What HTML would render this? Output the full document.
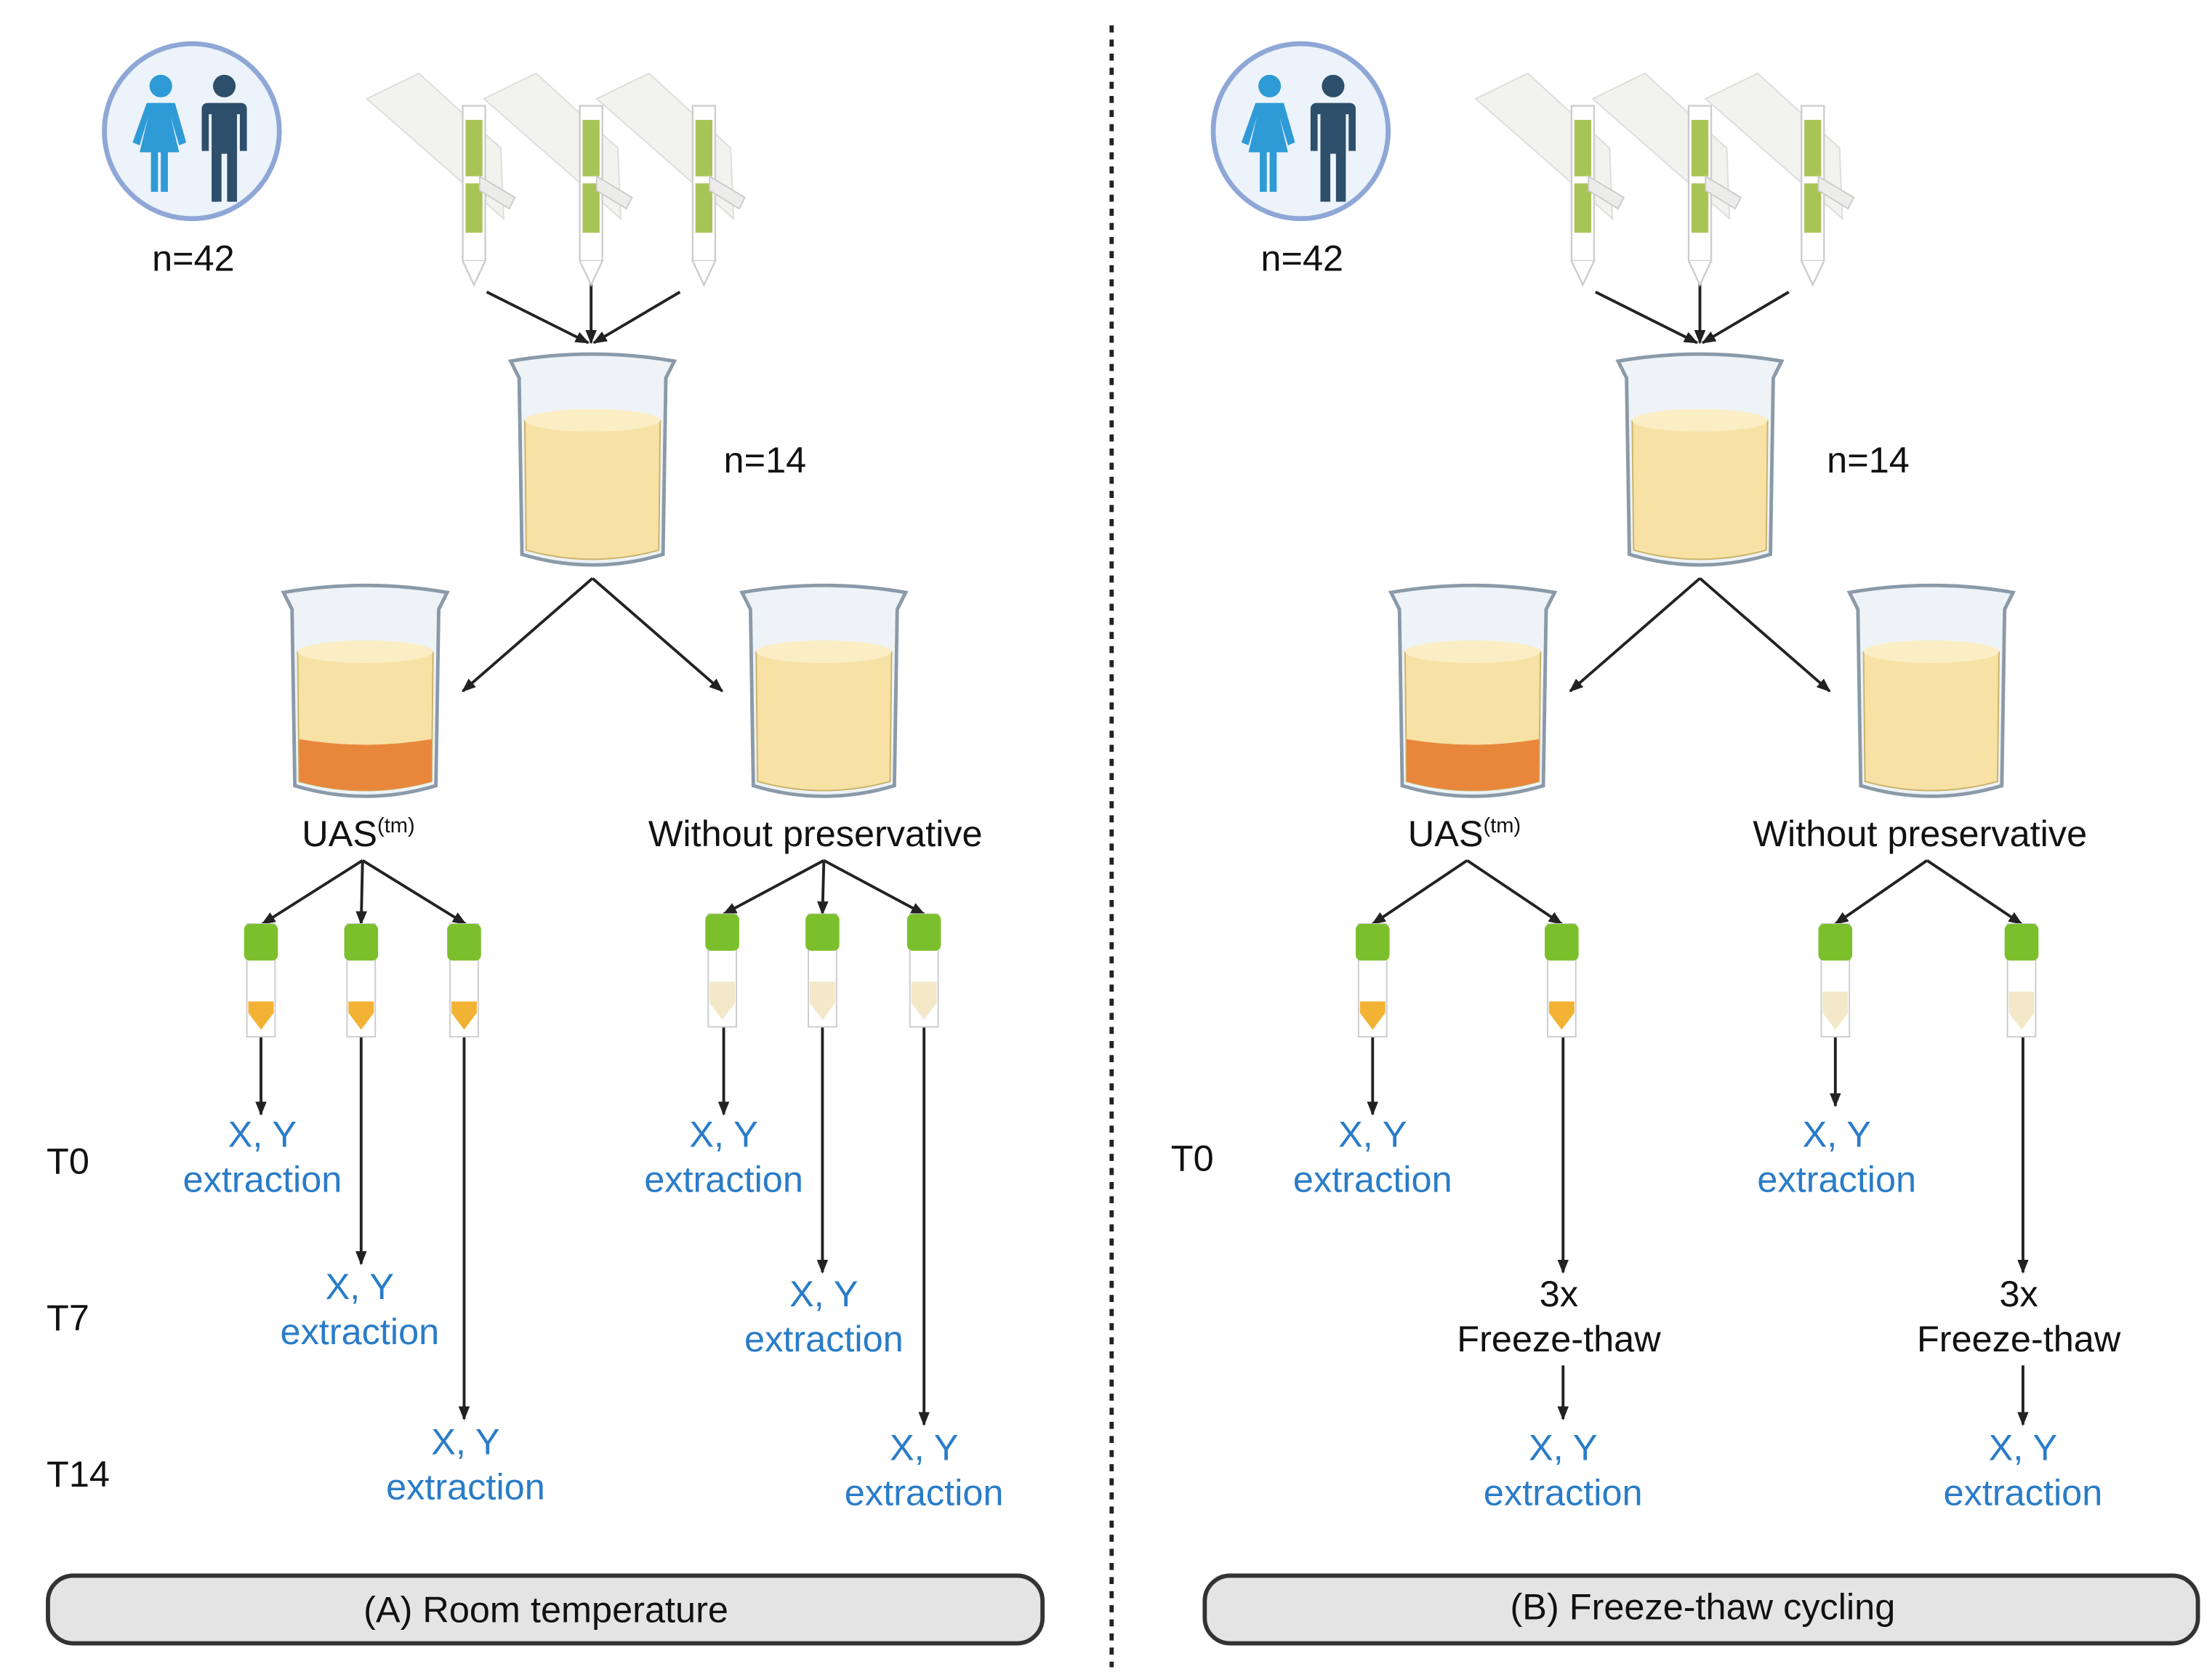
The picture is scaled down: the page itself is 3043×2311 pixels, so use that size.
<!DOCTYPE html>
<html><head><meta charset="utf-8"><style>html,body{margin:0;padding:0;background:#fff}svg{display:block}text{font-family:"Liberation Sans",sans-serif}</style></head><body>
<svg width="3043" height="2311" viewBox="0 0 1568 1191" preserveAspectRatio="none" xmlns="http://www.w3.org/2000/svg">
<defs>
<marker id="ah" markerWidth="10" markerHeight="10" refX="9" refY="5" orient="auto" markerUnits="userSpaceOnUse"><path d="M0,1 L10,5 L0,9 Z" fill="#222"/></marker>
<g id="people">
<circle cx="0" cy="0" r="62" fill="#edf3fb" stroke="#8ea7d6" stroke-width="3.5"/>
<circle cx="-22" cy="-32" r="8" fill="#2e9bd6"/>
<path d="M-32,-20 h20 l8,28 l-5,2 l-6,-20 l6,25 h-8 v28 h-5 v-28 h-2 v28 h-5 v-28 h-8 l6,-25 l-6,20 l-5,-2 Z" fill="#2e9bd6"/>
<circle cx="23" cy="-32" r="8" fill="#2d4f6b"/>
<path d="M11,-20 h24 a4,4 0 0 1 4,4 v30 h-5 v-26 h-2 v62 h-7 v-34 h-4 v34 h-7 v-62 h-2 v26 h-5 v-30 a4,4 0 0 1 4,-4 Z" fill="#2d4f6b"/>
</g>
<g id="swab">
<path d="M-75,-60 L-38,-78 L20,-25 L22,25 Z" fill="#f2f2ef" stroke="#ddd" stroke-width="1"/>
<rect x="-7" y="-55" width="16" height="110" fill="#fff" stroke="#ccc" stroke-width="1.2"/>
<path d="M-7,55 L1,72 L9,55" fill="#fff" stroke="#ccc" stroke-width="1.2"/>
<rect x="-5" y="-45" width="12" height="40" fill="#a9c456"/>
<rect x="-5" y="0" width="12" height="35" fill="#a9c456"/>
<path d="M5,-5 L30,10 L26,18 L5,5 Z" fill="#ececea" stroke="#ccc" stroke-width="1"/>
</g>
<g id="beakerY">
<path d="M-58,-72 Q0,-82 58,-72 L52,-60 L50,65 Q0,80 -50,65 L-52,-60 Z" fill="#eef3f7" stroke="#8a9aa8" stroke-width="2.5"/>
<path d="M-48,-30 Q0,-40 48,-30 L47,62 Q0,75 -47,62 Z" fill="#f7e1a4" stroke="#c9b36a" stroke-width="1"/>
<ellipse cx="0" cy="-30" rx="48" ry="8" fill="#fbeec5"/>
</g>
<g id="beakerO">
<use href="#beakerY"/>
<path d="M-47,32 Q0,40 47,32 L47,62 Q0,75 -47,62 Z" fill="#e8873c"/>
</g>
<g id="st">
<rect x="-10" y="0" width="20" height="80" fill="#fff" stroke="#ccc" stroke-width="1"/>
<rect x="-12" y="0" width="24" height="26" rx="4" fill="#7cbf2c"/>
</g>
<g id="stO"><use href="#st"/><path d="M-9,55 h18 v8 l-9,12 l-9,-12 Z" fill="#f2b233"/></g>
<g id="stY"><use href="#st"/><path d="M-9,48 h18 v15 l-9,12 l-9,-12 Z" fill="#f3e8c8"/></g>
</defs>

<line x1="788" y1="18" x2="788" y2="1182" stroke="#222" stroke-width="3" stroke-dasharray="5,5"/>

<!-- PANEL A -->
<g stroke="#222" stroke-width="2" fill="none" marker-end="url(#ah)">
<line x1="345" y1="207" x2="417" y2="243"/><line x1="419" y1="200" x2="419" y2="243"/><line x1="482" y1="207" x2="421" y2="243"/>
<line x1="420" y1="410" x2="328" y2="490"/><line x1="420" y1="410" x2="512" y2="490"/>
<line x1="257" y1="610" x2="186" y2="655"/><line x1="257" y1="610" x2="256" y2="655"/><line x1="257" y1="610" x2="330" y2="655"/>
<line x1="584" y1="610" x2="513" y2="648"/><line x1="584" y1="610" x2="583" y2="648"/><line x1="584" y1="610" x2="655" y2="648"/>
<line x1="185" y1="735" x2="185" y2="790"/><line x1="256" y1="735" x2="256" y2="896"/><line x1="329" y1="735" x2="329" y2="1006"/>
<line x1="513" y1="725" x2="513" y2="790"/><line x1="583" y1="725" x2="583" y2="902"/><line x1="655" y1="725" x2="655" y2="1010"/>
</g>
<use href="#people" x="136" y="93"/>
<use href="#swab" x="335" y="130"/><use href="#swab" x="418" y="130"/><use href="#swab" x="498" y="130"/>
<use href="#beakerY" x="420" y="328"/>
<use href="#beakerO" x="259" y="492"/><use href="#beakerY" x="584" y="492"/>
<use href="#stO" x="185" y="655"/><use href="#stO" x="256" y="655"/><use href="#stO" x="329" y="655"/>
<use href="#stY" x="512" y="648"/><use href="#stY" x="583" y="648"/><use href="#stY" x="655" y="648"/>
<g font-size="26" fill="#111">
<text x="137" y="192" text-anchor="middle">n=42</text>
<text x="513" y="335">n=14</text>
<text x="214" y="600">UAS<tspan font-size="15" dy="-10">(tm)</tspan></text>
<text x="578" y="600" text-anchor="middle">Without preservative</text>
<text x="33" y="832">T0</text><text x="33" y="943">T7</text><text x="33" y="1054">T14</text>
</g>
<g font-size="26" fill="#2a7cc7" text-anchor="middle">
<text x="186" y="813">X, Y</text><text x="186" y="845">extraction</text>
<text x="255" y="921">X, Y</text><text x="255" y="953">extraction</text>
<text x="330" y="1031">X, Y</text><text x="330" y="1063">extraction</text>
<text x="513" y="813">X, Y</text><text x="513" y="845">extraction</text>
<text x="584" y="926">X, Y</text><text x="584" y="958">extraction</text>
<text x="655" y="1035">X, Y</text><text x="655" y="1067">extraction</text>
</g>
<rect x="34" y="1117" width="705" height="48" rx="18" fill="#e4e4e4" stroke="#333" stroke-width="3"/>
<text x="387" y="1150" font-size="26" text-anchor="middle" fill="#111">(A) Room temperature</text>

<!-- PANEL B -->
<g stroke="#222" stroke-width="2" fill="none" marker-end="url(#ah)">
<line x1="1131" y1="207" x2="1203" y2="243"/><line x1="1205" y1="200" x2="1205" y2="243"/><line x1="1268" y1="207" x2="1207" y2="243"/>
<line x1="1205" y1="410" x2="1113" y2="490"/><line x1="1205" y1="410" x2="1297" y2="490"/>
<line x1="1040" y1="610" x2="973" y2="655"/><line x1="1040" y1="610" x2="1107" y2="655"/>
<line x1="1366" y1="610" x2="1301" y2="655"/><line x1="1366" y1="610" x2="1433" y2="655"/>
<line x1="973" y1="735" x2="973" y2="790"/><line x1="1108" y1="735" x2="1108" y2="902"/>
<line x1="1301" y1="735" x2="1301" y2="784"/><line x1="1434" y1="735" x2="1434" y2="902"/>
<line x1="1108" y1="968" x2="1108" y2="1006"/><line x1="1434" y1="968" x2="1434" y2="1010"/>
</g>
<use href="#people" x="922" y="93"/>
<use href="#swab" x="1121" y="130"/><use href="#swab" x="1204" y="130"/><use href="#swab" x="1284" y="130"/>
<use href="#beakerY" x="1205" y="328"/>
<use href="#beakerO" x="1044" y="492"/><use href="#beakerY" x="1369" y="492"/>
<use href="#stO" x="973" y="655"/><use href="#stO" x="1107" y="655"/>
<use href="#stY" x="1301" y="655"/><use href="#stY" x="1433" y="655"/>
<g font-size="26" fill="#111">
<text x="923" y="192" text-anchor="middle">n=42</text>
<text x="1295" y="335">n=14</text>
<text x="998" y="600">UAS<tspan font-size="15" dy="-10">(tm)</tspan></text>
<text x="1361" y="600" text-anchor="middle">Without preservative</text>
<text x="830" y="830">T0</text>
<g text-anchor="middle">
<text x="1105" y="926">3x</text><text x="1105" y="958">Freeze-thaw</text>
<text x="1431" y="926">3x</text><text x="1431" y="958">Freeze-thaw</text>
</g>
</g>
<g font-size="26" fill="#2a7cc7" text-anchor="middle">
<text x="973" y="813">X, Y</text><text x="973" y="845">extraction</text>
<text x="1302" y="813">X, Y</text><text x="1302" y="845">extraction</text>
<text x="1108" y="1035">X, Y</text><text x="1108" y="1067">extraction</text>
<text x="1434" y="1035">X, Y</text><text x="1434" y="1067">extraction</text>
</g>
<rect x="854" y="1117" width="704" height="48" rx="18" fill="#e4e4e4" stroke="#333" stroke-width="3"/>
<text x="1207" y="1148" font-size="26" text-anchor="middle" fill="#111">(B) Freeze-thaw cycling</text>
</svg>
</body></html>
